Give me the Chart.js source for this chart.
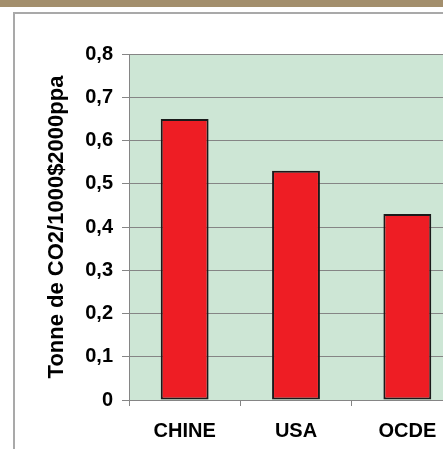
<!DOCTYPE html>
<html>
<head>
<meta charset="utf-8">
<script src="https://cdn.jsdelivr.net/npm/chart.js@4/dist/chart.umd.min.js"></script>
<style>
  html, body { margin: 0; padding: 0; background: #ffffff; overflow: hidden; }
  body { width: 443px; height: 449px; position: relative; }
  #band { position: absolute; left: 0; top: 0; width: 443px; height: 7px; background: #a38f6d; }
  #frame { position: absolute; left: 13px; top: 12px; width: 600px; height: 600px;
           border: 2px solid #a9a9a9; box-sizing: border-box; }
  #wrap { position: absolute; left: 0; top: 0; width: 520px; height: 449px; }
</style>
</head>
<body>
<div id="band"></div>
<div id="frame"></div>
<div id="wrap"><canvas id="chart"></canvas></div>
<script>
// Carbon intensity per region
const categories = ['CHINE', 'USA', 'OCDE'];
const intensity = [0.65, 0.53, 0.43];
const yTickLabels = ['0', '0,1', '0,2', '0,3', '0,4', '0,5', '0,6', '0,7', '0,8'];
const yTitle = 'Tonne de CO2/1000$2000ppa';

const plotBackground = {
  id: 'plotBackground',
  beforeDraw(chart) {
    const { ctx, chartArea: a } = chart;
    ctx.save();
    ctx.fillStyle = '#cde6d5';
    ctx.fillRect(a.left, a.top, a.right - a.left, a.bottom - a.top);
    ctx.restore();
  }
};

new Chart(document.getElementById('chart'), {
  type: 'bar',
  data: {
    labels: categories,
    datasets: [{
      data: intensity,
      backgroundColor: '#ee1d24',
      borderColor: '#1a1a1a',
      borderWidth: 2,
      borderSkipped: false,
      categoryPercentage: 1,
      barPercentage: 0.43
    }]
  },
  options: {
    responsive: true,
    maintainAspectRatio: false,
    animation: false,
    layout: { padding: { left: 0, top: 54, right: 57, bottom: 0 } },
    plugins: { legend: { display: false }, tooltip: { enabled: false } },
    scales: {
      x: {
        grid: { display: true, drawOnChartArea: false, drawTicks: true, tickLength: 6, color: '#858585', offset: true },
        border: { display: true, color: '#858585', width: 1 },
        ticks: { color: '#000', padding: 13, font: { family: 'Liberation Sans, Arial, sans-serif', size: 20, weight: 'bold' } },
        afterFit(scale) { scale.height = 49; scale.paddingLeft = 0; scale.paddingRight = 0; }
      },
      y: {
        min: 0, max: 0.8,
        ticks: {
          stepSize: 0.1, color: '#000', padding: 9,
          font: { family: 'Liberation Sans, Arial, sans-serif', size: 20, weight: 'bold' },
          callback: (v, i) => yTickLabels[i]
        },
        grid: { color: '#858585', lineWidth: 1, tickLength: 7 },
        border: { display: true, color: '#858585', width: 1 },
        title: {
          display: true, text: yTitle, color: '#000',
          font: { family: 'Liberation Sans, Arial, sans-serif', size: 22, weight: 'bold' },
          padding: { top: 44, bottom: 0 }
        },
        afterFit(scale) { scale.width = 129; scale.paddingTop = 0; scale.paddingBottom = 0; }
      }
    }
  },
  plugins: [plotBackground]
});
</script>
</body>
</html>
